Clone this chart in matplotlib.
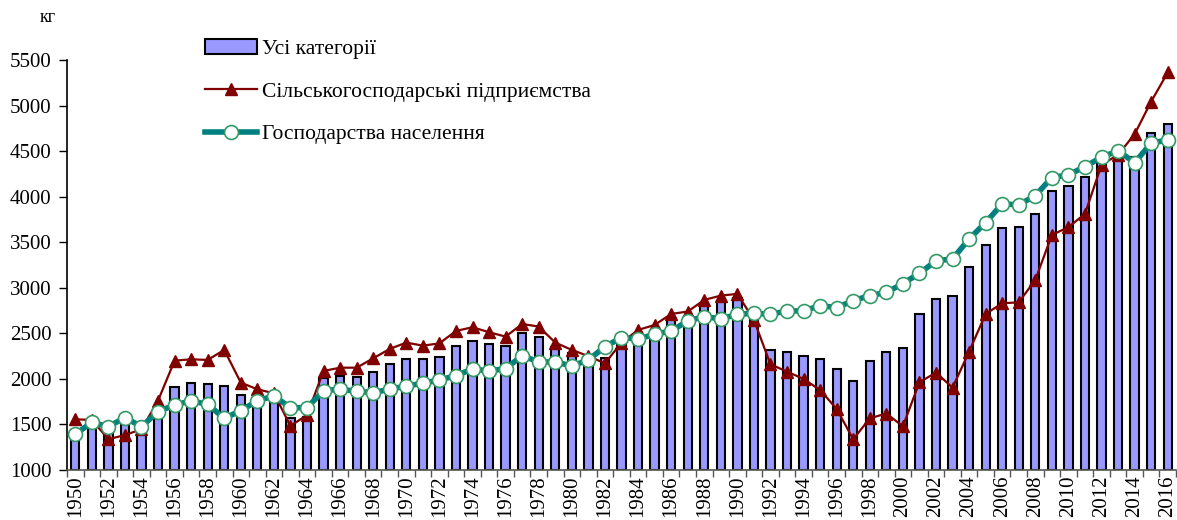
import matplotlib
matplotlib.use("Agg")
import matplotlib.pyplot as plt
import numpy as np

years = list(range(1950, 2017))
all_categories = [1420, 1530, 1450, 1510, 1460, 1640, 1915, 1960, 1940, 1920,
                  1825, 1800, 1790, 1575, 1580, 2005, 2030, 2025, 2080, 2160,
                  2220, 2220, 2245, 2360, 2420, 2380, 2360, 2500, 2465, 2355,
                  2280, 2230, 2225, 2390, 2420, 2465, 2665, 2650, 2810, 2850,
                  2885, 2690, 2320, 2290, 2250, 2215, 2110, 1980, 2200, 2290,
                  2335, 2715, 2880, 2905, 3225, 3470, 3660, 3670, 3805, 4065,
                  4115, 4220, 4385, 4460, 4440, 4700, 4800]
agri_enterprises = [1556, 1550, 1337, 1384, 1447, 1761, 2200, 2215, 2208, 2318,
                    1959, 1886, 1842, 1483, 1604, 2087, 2123, 2123, 2226, 2329,
                    2398, 2365, 2390, 2526, 2567, 2512, 2464, 2603, 2574, 2398,
                    2318, 2250, 2171, 2398, 2537, 2592, 2713, 2739, 2867, 2914,
                    2933, 2647, 2160, 2080, 1999, 1878, 1670, 1337, 1567, 1620,
                    1480, 1963, 2069, 1904, 2299, 2713, 2830, 2840, 3086, 3580,
                    3665, 3811, 4349, 4460, 4686, 5044, 5363]
households = [1392, 1523, 1476, 1575, 1476, 1640, 1714, 1758, 1721, 1567,
              1651, 1761, 1812, 1684, 1684, 1871, 1886, 1864, 1849, 1886,
              1922, 1952, 1988, 2036, 2109, 2087, 2113, 2255, 2186, 2186,
              2142, 2208, 2354, 2453, 2438, 2490, 2526, 2636, 2684, 2658,
              2709, 2720, 2709, 2746, 2746, 2804, 2782, 2859, 2914, 2950,
              3045, 3160, 3295, 3317, 3536, 3716, 3921, 3910, 4012, 4210,
              4239, 4330, 4433, 4503, 4374, 4587, 4623]
labels = ["Усі категорії", "Сільськогосподарські підприємства", "Господарства населення"]
yticks = list(range(1000, 5501, 500))

plt.rcParams['font.family'] = ['Liberation Serif', 'DejaVu Serif']

W, H = 1177, 520
fig = plt.figure(figsize=(W / 100, H / 100), dpi=100)
ax = fig.add_axes([67 / W, 50 / H, (1176 - 67) / W, (470 - 60) / H])

x = np.arange(len(years))
h_bar = ax.bar(x, np.array(all_categories) - 1000, bottom=1000, width=0.5, color='#9999FF',
               edgecolor='black', linewidth=1.5, label=labels[0], zorder=2)
h_agri, = ax.plot(x, agri_enterprises, color='#800000', linewidth=1.6, marker='^', markersize=9,
                  markerfacecolor='#800000', markeredgecolor='#800000', label=labels[1], zorder=3)
h_hh, = ax.plot(x, households, color='#008080', linewidth=4, marker='o', markersize=10,
                markerfacecolor='white', markeredgecolor='#339966', markeredgewidth=1.2,
                label=labels[2], zorder=4)

ax.set_xlim(-0.5, len(years) - 0.5)
ax.set_ylim(1000, 5500)
ax.set_yticks(yticks)
ax.set_yticklabels([str(v) for v in yticks], fontsize=15)
ax.set_xticks(x[::2])
ax.set_xticklabels([str(y) for y in years[::2]], rotation=90, fontsize=15)
ax.set_xticks(np.arange(-0.5, len(years), 1), minor=True)
ax.tick_params(axis='x', which='major', length=0, pad=4)
ax.tick_params(axis='x', which='minor', length=5, width=1, color='#555555')
ax.tick_params(axis='y', which='major', length=6, width=1, pad=5)
for s in ['top', 'right']:
    ax.spines[s].set_visible(False)
ax.spines['left'].set_linewidth(1.2)
ax.spines['bottom'].set_linewidth(1.2)
ax.spines['bottom'].set_color('#555555')

fig.text(40 / W, 1 - 18 / H, "кг", fontsize=13, ha='left', va='center')

fig.legend(handles=[h_bar, h_agri, h_hh], labels=labels, loc='upper left',
           bbox_to_anchor=(205 / W, 1 - 39 / H), frameon=False,
           fontsize=15.5, handlelength=2.4, handletextpad=0.25, labelspacing=1.05,
           borderpad=0, borderaxespad=0)

fig.savefig("out.png", dpi=100)
